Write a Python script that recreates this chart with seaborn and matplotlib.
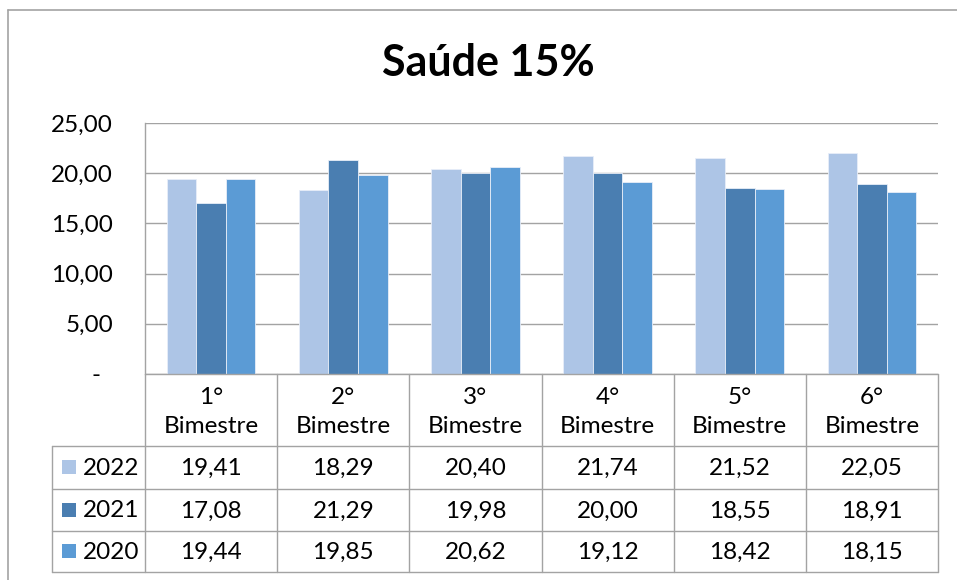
import matplotlib
matplotlib.use("Agg")
import matplotlib.pyplot as plt
from matplotlib.lines import Line2D
from matplotlib.patches import Rectangle
import seaborn as sns
import pandas as pd

categories = ["1°\nBimestre", "2°\nBimestre", "3°\nBimestre", "4°\nBimestre", "5°\nBimestre", "6°\nBimestre"]
series_names = ["2022", "2021", "2020"]
values_2022 = [19.41, 18.29, 20.40, 21.74, 21.52, 22.05]
values_2021 = [17.08, 21.29, 19.98, 20.00, 18.55, 18.91]
values_2020 = [19.44, 19.85, 20.62, 19.12, 18.42, 18.15]
yticks = [0, 5, 10, 15, 20, 25]
ytick_labels = ["-  ", "5,00", "10,00", "15,00", "20,00", "25,00"]
title = "Saúde 15%"

colors = {"2022": "#adc5e6", "2021": "#4a7eb1", "2020": "#5b9bd5"}
series_values = {"2022": values_2022, "2021": values_2021, "2020": values_2020}

rows = []
for s in series_names:
    for c, v in zip(categories, series_values[s]):
        rows.append({"cat": c, "serie": s, "valor": v})
df = pd.DataFrame(rows)

sns.set_theme(style="white")
plt.rcParams["font.family"] = ["Lato", "DejaVu Sans"]

W, H = 957, 580
fig = plt.figure(figsize=(W / 100, H / 100), dpi=100)
GRAY = "#a3a3a3"
FS = 17.5

def fx(px):
    return px / W

def fy(py):
    return 1 - py / H

L, R, T, B = 145, 938, 123, 374
ax = fig.add_axes([fx(L), fy(B), fx(R) - fx(L), fy(T) - fy(B)])
sns.barplot(data=df, x="cat", y="valor", hue="serie", hue_order=series_names,
            order=categories, palette=colors, width=0.67, ax=ax, saturation=1,
            edgecolor="#e8eef8", linewidth=0.6, legend=False, errorbar=None)
ax.set_xlim(-0.5, len(categories) - 0.5)
ax.set_ylim(0, 25)
ax.set_yticks(yticks)
ax.set_yticklabels(ytick_labels)
ax.set_xticks([])
ax.set_xlabel("")
ax.set_ylabel("")
ax.yaxis.grid(True, color=GRAY, linewidth=1)
ax.set_axisbelow(True)
for sp in ["top", "right", "bottom"]:
    ax.spines[sp].set_visible(False)
ax.spines["left"].set_color(GRAY)
ax.spines["left"].set_linewidth(1)
ax.tick_params(axis="y", length=0, pad=23, labelsize=FS, labelcolor="#000000")

# Title
fig.text(fx(488), fy(63), title, ha="center", va="center", fontsize=31,
         fontweight="bold", color="#000000")

# Table axes
tax = fig.add_axes([fx(L), fy(572), fx(R) - fx(L), fy(B) - fy(572)])
tax.set_xlim(-0.5, len(categories) - 0.5)
tax.set_ylim(572, B)
tax.axis("off")
colw = (R - L) / len(categories)

def dx(px):
    return -0.5 + (px - L) / colw

row_edges = [B, 446, 489, 531, 572]
legend_left = dx(52)
tax.add_line(Line2D([-0.5, len(categories) - 0.5], [B, B], color=GRAY, lw=1, clip_on=False))
for yy in row_edges[1:]:
    tax.add_line(Line2D([legend_left, len(categories) - 0.5], [yy, yy], color=GRAY, lw=1, clip_on=False))
for i in range(len(categories) + 1):
    xx = -0.5 + i
    tax.add_line(Line2D([xx, xx], [B, 572], color=GRAY, lw=1, clip_on=False))
tax.add_line(Line2D([legend_left, legend_left], [446, 572], color=GRAY, lw=1, clip_on=False))

for i, c in enumerate(categories):
    tax.text(i, (B + 446) / 2 + 2, c, ha="center", va="center", fontsize=FS,
             linespacing=1.5, color="#000000")

for r, s in enumerate(series_names):
    y0, y1 = row_edges[r + 1], row_edges[r + 2]
    yc = (y0 + y1) / 2
    for i, v in enumerate(series_values[s]):
        tax.text(i, yc + 1, f"{v:.2f}".replace(".", ","), ha="center", va="center",
                 fontsize=FS, color="#000000")
    tax.add_patch(Rectangle((dx(62), yc - 7), dx(76) - dx(62), 14, facecolor=colors[s],
                            edgecolor="none", clip_on=False))
    tax.text(dx(83), yc + 1, s, ha="left", va="center", fontsize=FS, color="#000000")

fig.add_artist(Line2D([fx(8), fx(8)], [fy(10), 0], color=GRAY, lw=1.2))
fig.add_artist(Line2D([fx(8), 1], [fy(10), fy(10)], color=GRAY, lw=1.2))

fig.savefig("out.png", dpi=100, facecolor="white")
